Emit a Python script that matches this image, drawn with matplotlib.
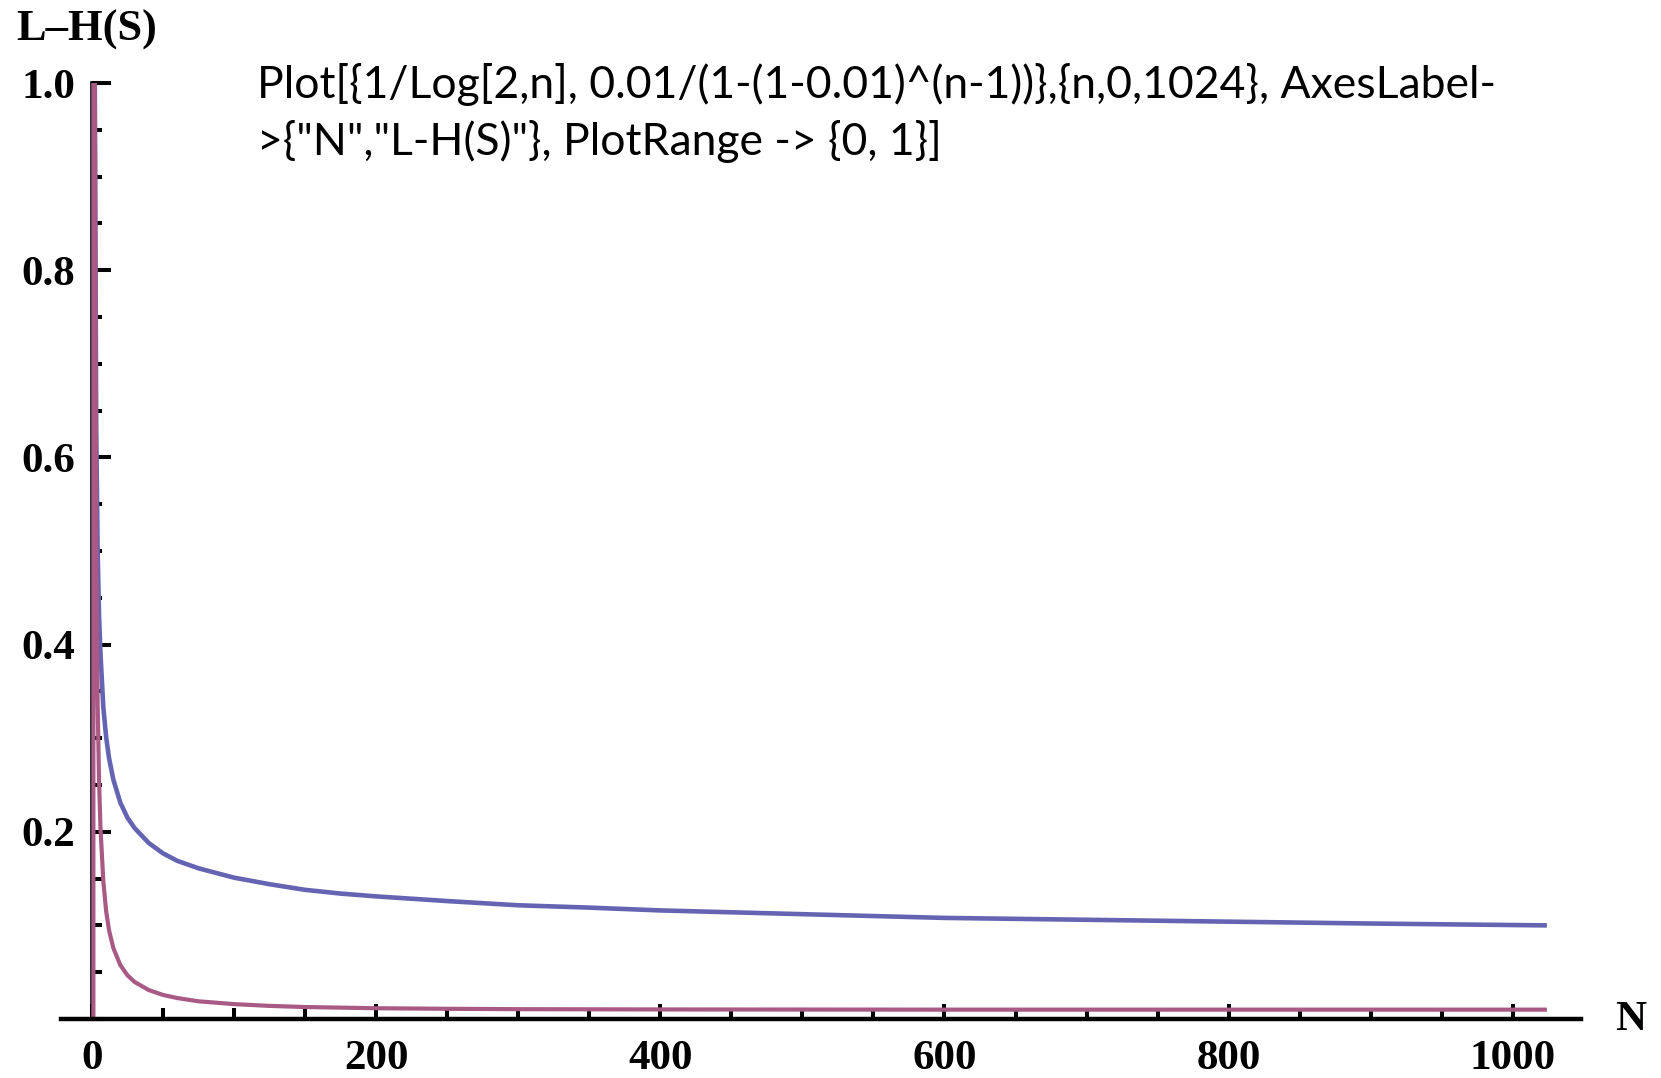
"""
Recreation of a Mathematica Plot: L-H(S) against N for two bounds.
Values were read off the original picture.
"""

import matplotlib
matplotlib.use("Agg")
import matplotlib.pyplot as plt
import matplotlib.ticker as mticker

# ── data ─────────────────────────────────────────────────────────────────────
# curve 1 (blue): 1/Log[2, n]
blue_n = [1.5, 2, 3, 4, 5, 6, 8, 10, 12, 15, 20, 25, 30, 40, 50, 60, 75,
          100, 125, 150, 175, 200, 250, 300, 350, 400, 500, 600, 700, 800,
          900, 1024]
blue_y = [1.71, 1.00, 0.63, 0.50, 0.43, 0.39, 0.333, 0.301, 0.279, 0.256,
          0.231, 0.215, 0.204, 0.188, 0.177, 0.169, 0.161, 0.151, 0.144,
          0.138, 0.134, 0.131, 0.126, 0.1215, 0.119, 0.116, 0.112, 0.108,
          0.106, 0.104, 0.102, 0.100]

# curve 2 (purple): 0.01/(1-(1-0.01)^(n-1)); jumps across the n=1 pole
pink_n = [1.0, 1.0, 2, 3, 4, 5, 6, 8, 10, 12, 15, 20, 25, 30, 40, 50, 60,
          75, 100, 125, 150, 200, 250, 300, 400, 500, 600, 800, 1024]
pink_y = [-1.0, 1.5, 1.00, 0.50, 0.337, 0.254, 0.204, 0.147, 0.115, 0.095,
          0.076, 0.0575, 0.0467, 0.0396, 0.0309, 0.0257, 0.0224, 0.0189,
          0.0159, 0.0140, 0.0128, 0.0115, 0.0109, 0.0105, 0.0102, 0.0101,
          0.0100, 0.0100, 0.0100]

x_major = [0, 200, 400, 600, 800, 1000]
x_labels = ["0", "200", "400", "600", "800", "1000"]
y_major = [0.2, 0.4, 0.6, 0.8, 1.0]
y_labels = ["0.2", "0.4", "0.6", "0.8", "1.0"]

code_lines = [
    'Plot[{1/Log[2,n], 0.01/(1-(1-0.01)^(n-1))},{n,0,1024}, AxesLabel-',
    '>{"N","L-H(S)"}, PlotRange -> {0, 1}]',
]

BLUE = "#6464b2"
PINK = "#a85a84"
SERIF = "Liberation Serif"

W, H = 1661, 1078


def main() -> None:
    fig = plt.figure(figsize=(W / 100, H / 100), dpi=100)
    # axes box placed in pixels: x 0 -> 92px, 1000 -> 1513px; y 0 -> 1019px, 1 -> 83px
    ax = fig.add_axes([60.7 / W, (H - 1019) / H, (1581 - 60.7) / W, 936 / H])
    ax.set_xlim(-22, 1048)
    ax.set_ylim(0, 1)

    ax.plot(blue_n, blue_y, color=BLUE, lw=3.3, solid_capstyle="butt")
    ax.plot(pink_n, pink_y, color=PINK, lw=3.0, solid_capstyle="butt")

    # Mathematica style axes crossing at the origin
    for side in ["top", "right"]:
        ax.spines[side].set_visible(False)
    ax.spines["left"].set_position(("data", 0))
    ax.spines["bottom"].set_position(("data", 0))
    ax.spines["left"].set_linewidth(2.6)
    ax.spines["bottom"].set_linewidth(3.2)
    ax.spines["left"].set_zorder(1)

    tick_font = dict(fontfamily=SERIF, fontsize=31, fontweight="bold")
    ax.set_xticks(x_major)
    ax.set_xticklabels(x_labels, **tick_font)
    ax.set_yticks(y_major)
    ax.set_yticklabels(y_labels, **tick_font)
    ax.xaxis.set_minor_locator(mticker.MultipleLocator(50))
    ax.yaxis.set_minor_locator(mticker.MultipleLocator(0.05))

    ax.tick_params(axis="x", which="major", direction="in", length=11,
                   width=2.9, pad=15)
    ax.tick_params(axis="x", which="minor", direction="in", length=8,
                   width=2.9)
    ax.tick_params(axis="y", which="major", direction="in", length=14,
                   width=2.9, pad=12)
    ax.tick_params(axis="y", which="minor", direction="in", length=7.3,
                   width=2.9)

    # axis labels as in AxesLabel
    fig.text(16 / W, 1 - 30 / H, "L\u2013H(S)", fontfamily=SERIF,
             fontsize=32, fontweight="bold", ha="left", va="center")
    fig.text(1615 / W, 1 - 1020 / H, "N", fontfamily=SERIF,
             fontsize=31, fontweight="bold", ha="left", va="center")

    # pasted input code
    for i, line in enumerate(code_lines):
        fig.text(257 / W, 1 - (98 + 57 * i) / H, line, fontfamily="Lato",
                 fontsize=32, ha="left", va="baseline")

    fig.savefig("out.png", dpi=100)


if __name__ == "__main__":
    main()
